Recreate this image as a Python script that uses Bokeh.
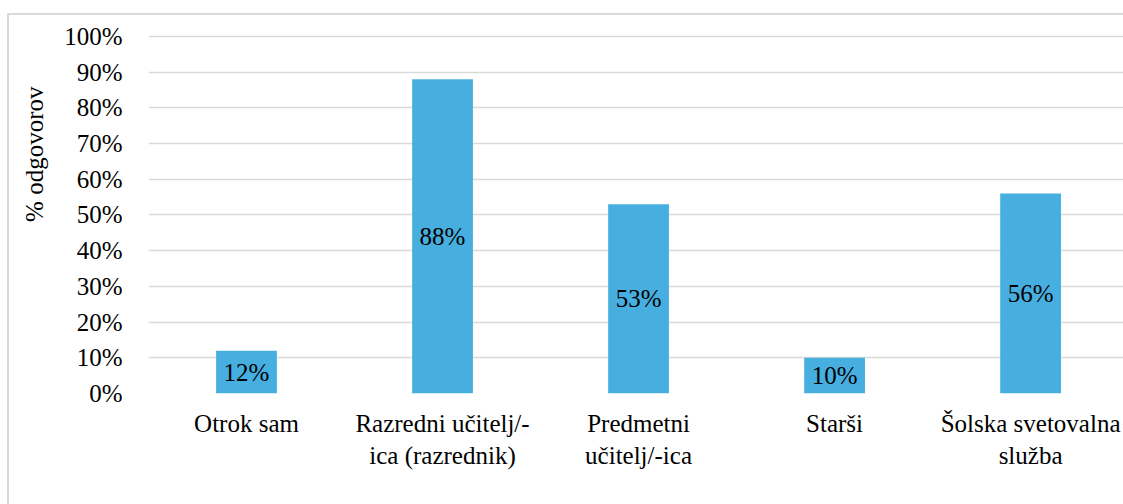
from bokeh.plotting import figure
from bokeh.models import (ColumnDataSource, Range1d, FixedTicker, PrintfTickFormatter,
                          LabelSet, Title, InlineStyleSheet)
from bokeh.embed import file_html
from bokeh.resources import INLINE

categories = ["Otrok sam", "Razredni učitelj/-\nica (razrednik)", "Predmetni\nučitelj/-ica",
              "Starši", "Šolska svetovalna\nslužba"]
values = [12, 88, 53, 10, 56]
value_labels = ["12%", "88%", "53%", "10%", "56%"]
y_title = "% odgovorov"

FONT = "Liberation Serif"
FS = "25px"

xs = list(range(len(categories)))
src = ColumnDataSource(dict(x=xs, top=values, mid=[v / 2 for v in values], lab=value_labels))

p = figure(width=1123, height=504, output_backend="svg", toolbar_location=None,
           x_range=Range1d(-0.5, 4.474), y_range=Range1d(0, 100.5),
           min_border_left=148, min_border_right=0, min_border_top=34, min_border_bottom=111)
p.outline_line_color = None
p.background_fill_color = "white"
p.border_fill_color = "white"

p.vbar(x="x", top="top", width=0.31, source=src, fill_color="#46AFE0", line_color=None)

p.add_layout(LabelSet(x="x", y="mid", text="lab", source=src, text_align="center",
                      text_baseline="middle", text_font=FONT, text_font_size=FS,
                      text_color="black"))

# axes
p.xaxis.ticker = FixedTicker(ticks=xs)
p.xaxis.major_label_overrides = {i: c for i, c in enumerate(categories)}
p.yaxis.ticker = FixedTicker(ticks=list(range(0, 101, 10)))
p.yaxis.formatter = PrintfTickFormatter(format="%d%%")
for ax in (p.xaxis[0], p.yaxis[0]):
    ax.axis_line_color = None
    ax.major_tick_line_color = None
    ax.minor_tick_line_color = None
    ax.major_label_text_font = FONT
    ax.major_label_text_font_size = FS
    ax.major_label_text_color = "black"
p.yaxis.major_label_standoff = 20
p.xaxis.major_label_standoff = 10

p.xgrid.grid_line_color = None
p.ygrid.grid_line_color = "#d9d9d9"
p.ygrid.grid_line_width = 1.6

# y axis title
p.add_layout(Title(text=y_title, align="right", offset=52, standoff=28, text_font=FONT,
                   text_font_size=FS, text_font_style="normal", text_color="black"), "left")

# chart border (left + top visible)
p.stylesheets = [InlineStyleSheet(css=(
    ":host::after{content:'';position:absolute;left:7px;top:13px;right:0;bottom:0;"
    "border-left:2px solid #d9d9d9;border-top:2px solid #d9d9d9;pointer-events:none;}"))]

open("out.html", "w").write(file_html(p, INLINE))
